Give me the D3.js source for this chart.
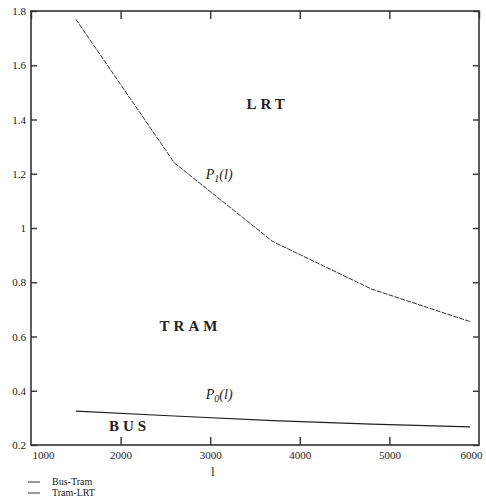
<!DOCTYPE html>
<html>
<head>
<meta charset="utf-8">
<script src="https://cdn.jsdelivr.net/npm/d3@7"></script>
<style>
    body { margin: 0; background: #fff; }
    text { font-family: "Liberation Serif", "DejaVu Serif", serif; fill: #222; }
</style>
</head>
<body>
<div id="chart"></div>
<script>
// ============================================================================
// DATA
// ============================================================================

const lengths  = [1500, 2600, 3700, 4800, 5900];
const tramLrt  = [1.77, 1.24, 0.95, 0.775, 0.655];   // P1(l)
const busTram  = [0.325, 0.307, 0.29, 0.277, 0.267]; // P0(l)

const xTicks = [1000, 2000, 3000, 4000, 5000, 6000];
const yTicks = [0.2, 0.4, 0.6, 0.8, 1, 1.2, 1.4, 1.6, 1.8];

// ============================================================================
// SETUP
// ============================================================================

const W = 486, H = 499;
const margin = { top: 11, right: 7, bottom: 54, left: 31 };
const width  = W - margin.left - margin.right;
const height = H - margin.top  - margin.bottom;

const svg = d3.select("#chart")
    .append("svg")
    .attr("width", W)
    .attr("height", H);

const g = svg.append("g")
    .attr("transform", `translate(${margin.left},${margin.top})`);

const x = d3.scaleLinear().domain([1000, 6000]).range([0, width]);
const y = d3.scaleLinear().domain([0.2, 1.8]).range([height, 0]);

// frame
g.append("rect")
    .attr("width", width)
    .attr("height", height)
    .attr("fill", "none")
    .attr("stroke", "#333")
    .attr("stroke-width", 1.6);

// axes with inward ticks
const fmtY = d => d === 1 ? "1" : d3.format(".1f")(d);

const xAxisG = g.append("g")
    .attr("transform", `translate(0,${height})`)
    .call(d3.axisBottom(x).tickValues(xTicks).tickSize(-8).tickPadding(6).tickFormat(d3.format("d")));

const yAxisG = g.append("g")
    .call(d3.axisLeft(y).tickValues(yTicks).tickSize(-6).tickPadding(5).tickFormat(fmtY));

g.append("g")
    .attr("transform", `translate(${width},0)`)
    .call(d3.axisRight(y).tickValues(yTicks).tickSize(-6).tickFormat(""));

g.append("g")
    .call(d3.axisTop(x).tickValues(xTicks).tickSize(-8).tickFormat(""));

g.selectAll(".domain").remove();
g.selectAll(".tick line").attr("stroke", "#333").attr("stroke-width", 1.4);
g.selectAll(".tick text")
    .style("font-family", "Liberation Serif, serif")
    .style("font-size", "11px")
    .attr("fill", "#333");

// keep the end labels inside the picture, as in the original
xAxisG.selectAll(".tick text").filter(d => d === 1000).attr("dx", 12);
xAxisG.selectAll(".tick text").filter(d => d === 6000).attr("dx", -8);
xAxisG.selectAll(".tick line").filter(d => d === 1000 || d === 6000).remove();

// ============================================================================
// CURVES
// ============================================================================

const line = d3.line()
    .x(d => x(d[0]))
    .y(d => y(d[1]));

g.append("path")
    .datum(d3.zip(lengths, tramLrt))
    .attr("d", line)
    .attr("fill", "none")
    .attr("stroke", "#333")
    .attr("stroke-width", 1)
    .attr("stroke-dasharray", "5,1.2");

g.append("path")
    .datum(d3.zip(lengths, busTram))
    .attr("d", line)
    .attr("fill", "none")
    .attr("stroke", "#222")
    .attr("stroke-width", 1.2);

// ============================================================================
// ANNOTATIONS
// ============================================================================

function region(label, xv, yv) {
    g.append("text")
        .attr("x", x(xv))
        .attr("y", y(yv))
        .attr("text-anchor", "middle")
        .style("font-size", "15px")
        .style("font-weight", "bold")
        .style("letter-spacing", "4px")
        .text(label);
}
region("LRT", 3640, 1.44);
region("TRAM", 2780, 0.62);
region("BUS", 2100, 0.25);

function curveLabel(sub, xv, yv) {
    const t = g.append("text")
        .attr("x", x(xv))
        .attr("y", y(yv))
        .attr("text-anchor", "middle")
        .style("font-size", "14px")
        .style("font-style", "italic");
    t.append("tspan").text("P");
    t.append("tspan").attr("dy", 3).style("font-size", "10px").text(sub);
    t.append("tspan").attr("dy", -3).text("(l)");
}
curveLabel("1", 3100, 1.18);
curveLabel("0", 3100, 0.37);

// x axis title
svg.append("text")
    .attr("x", 213)
    .attr("y", 476)
    .attr("text-anchor", "middle")
    .style("font-size", "12px")
    .text("l");

// legend
const legend = [
    { name: "Bus-Tram", y: 485 },
    { name: "Tram-LRT", y: 496 }
];
legend.forEach(d => {
    svg.append("line")
        .attr("x1", 28).attr("x2", 40)
        .attr("y1", d.y - 3).attr("y2", d.y - 3)
        .attr("stroke", "#333")
        .attr("stroke-width", 1);
    svg.append("text")
        .attr("x", 52)
        .attr("y", d.y)
        .style("font-size", "10px")
        .text(d.name);
});
</script>
</body>
</html>
